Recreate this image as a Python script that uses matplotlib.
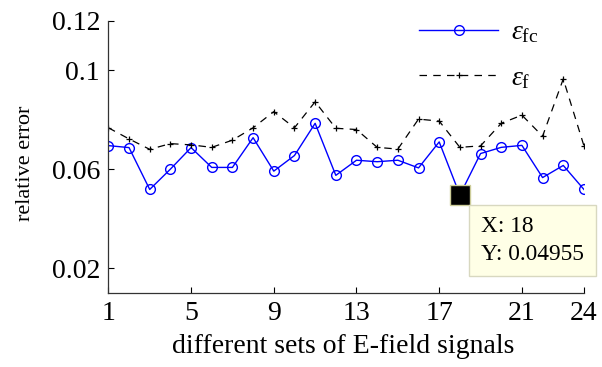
import matplotlib
matplotlib.use("Agg")
import matplotlib.pyplot as plt

x = list(range(1, 25))
eps_fc = [0.0695, 0.0687, 0.0518, 0.0600, 0.0687, 0.0607, 0.0607, 0.0727, 0.0592, 0.0655,
          0.0785, 0.0575, 0.0636, 0.0630, 0.0636, 0.0605, 0.0710, 0.04955, 0.0663, 0.0688,
          0.0696, 0.0566, 0.0615, 0.0518]
eps_f = [0.0767, 0.0722, 0.0680, 0.0703, 0.0698, 0.0688, 0.0717, 0.0767, 0.0832, 0.0767,
         0.0872, 0.0765, 0.0760, 0.0688, 0.0681, 0.0802, 0.0794, 0.0688, 0.0694, 0.0785,
         0.0818, 0.0733, 0.0964, 0.0694]
xticks = [1, 5, 9, 13, 17, 21, 24]
yticks = [0.02, 0.06, 0.1, 0.12]
ytick_labels = ["0.02", "0.06", "0.1", "0.12"]
tip_x, tip_y = 18, 0.04955

plt.rcParams['font.family'] = ['Liberation Serif', 'DejaVu Serif']
plt.rcParams['mathtext.fontset'] = 'custom'
plt.rcParams['mathtext.rm'] = 'Liberation Serif'
plt.rcParams['mathtext.it'] = 'Liberation Serif:italic'

fig = plt.figure(figsize=(6.02, 3.67), dpi=100)
ax = fig.add_axes([0.180, 0.2016, 0.790, 0.7425])

ax.plot(x, eps_fc, color='#0000ff', lw=1.0, marker='o', ms=7, mfc='none', mec='#0000ff',
        mew=1.0, label=r'$\varepsilon_{\rm fc}$')
ax.plot(x, eps_f, color='black', lw=0.9, ls=(0, (6, 5)), marker='+', ms=4, mew=0.9,
        label=r'$\varepsilon_{\rm f}$')

ax.set_xlim(1, 24)
ax.set_ylim(0.01, 0.12)
ax.set_xticks(xticks)
ax.set_xticklabels([str(t) for t in xticks])
ax.set_yticks(yticks)
ax.set_yticklabels(ytick_labels)
ax.tick_params(direction='in', length=4, width=0.8, labelsize=20, pad=6)
for s in ['top', 'right']:
    ax.spines[s].set_visible(False)
for s in ['left', 'bottom']:
    ax.spines[s].set_linewidth(0.9)
    ax.spines[s].set_color('#333333')

ax.set_xlabel('different sets of E-field signals', fontsize=20)
ax.xaxis.set_label_coords(0.493, -0.152)
ax.set_ylabel('relative error', fontsize=16)
ax.yaxis.set_label_coords(-0.154, 0.475)

leg = ax.legend(loc='upper left', bbox_to_anchor=(0.653, 1.002), frameon=False, fontsize=20,
                handlelength=2.86, labelspacing=0.72, handletextpad=0.45, borderpad=0,
                borderaxespad=0)

# data tip
ax.plot([tip_x], [tip_y], marker='s', ms=13.9, color='black', mec='#cccc99', zorder=5)
ax.annotate('X: 18\nY: 0.04955', xy=(tip_x, tip_y), xytext=(15.3, -15.4), textcoords='offset points',
            ha='left', va='top', fontsize=16.8, linespacing=1.4,
            bbox=dict(boxstyle='square,pad=0.5', fc='#ffffe6', ec='#d8d8c0', lw=1.0), zorder=6)

fig.savefig('out.png', dpi=100)
